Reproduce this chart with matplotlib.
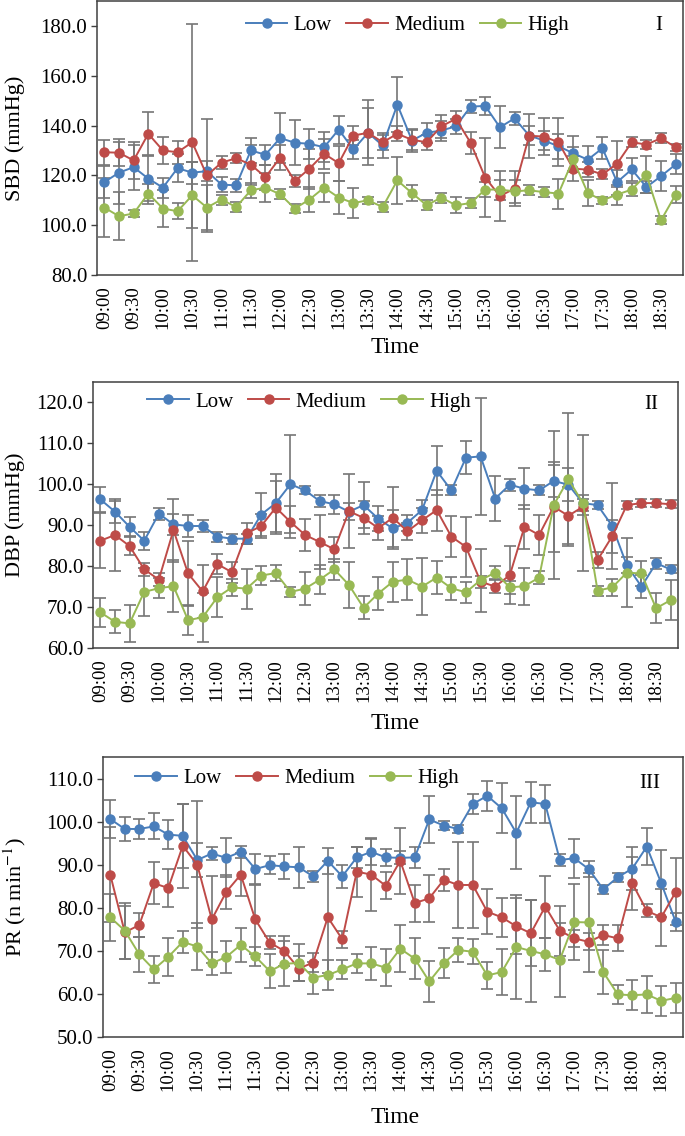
import numpy as np
import matplotlib
matplotlib.use("Agg")
import matplotlib.pyplot as plt

plt.rcParams['font.family'] = ['Liberation Serif', 'DejaVu Serif']
plt.rcParams['mathtext.fontset'] = 'stix'

# 15-minute sampling from 09:00 to 18:45, labels every 30 min
tick_labels = ['09:00', '09:30', '10:00', '10:30', '11:00', '11:30', '12:00', '12:30',
               '13:00', '13:30', '14:00', '14:30', '15:00', '15:30', '16:00', '16:30',
               '17:00', '17:30', '18:00', '18:30']
n_points = 40
groups = ['Low', 'Medium', 'High']
colors = ['#4A7EBB', '#BE4B48', '#98B954']

# ---- Panel I: SBD ----
sbd_low = [117.3, 121.1, 123.3, 118.7, 115.1, 122.9, 121.1, 121.7, 116.3, 116.0,
           130.0, 128.3, 135.0, 133.1, 132.7, 131.3, 138.4, 130.4, 137.1, 132.0,
           148.4, 134.0, 137.1, 138.0, 139.7, 147.6, 147.9, 139.3, 142.9, 136.0,
           134.0, 131.7, 128.9, 126.3, 130.9, 117.3, 122.4, 115.3, 119.7, 124.4]
sbd_med = [129.3, 129.1, 126.0, 136.7, 130.0, 129.3, 133.3, 120.0, 125.1, 126.9,
           124.3, 119.3, 127.1, 117.7, 122.7, 128.7, 124.9, 136.0, 137.1, 133.3,
           136.7, 134.3, 133.3, 139.7, 142.7, 133.1, 119.1, 111.7, 114.7, 135.9,
           135.6, 133.3, 122.7, 122.3, 120.4, 124.7, 133.3, 132.4, 134.9, 131.3]
sbd_high = [107.1, 103.6, 104.7, 112.7, 106.7, 105.6, 112.0, 107.1, 110.3, 107.3,
            114.0, 115.1, 112.4, 106.7, 110.3, 115.1, 111.1, 108.9, 110.0, 107.3,
            118.0, 112.9, 108.0, 111.1, 108.0, 108.9, 114.3, 114.3, 113.6, 114.0,
            113.3, 112.7, 126.4, 112.9, 110.0, 112.3, 114.3, 120.3, 102.0, 112.3]
sbd_low_err = [6.5, 12.5, 9.0, 9.0, 4.0, 5.6, 4.4, 4.0, 3.0, 2.5,
               5.0, 4.0, 10.0, 9.0, 6.0, 6.0, 5.6, 4.0, 13.0, 5.0,
               11.0, 4.5, 4.0, 4.0, 3.0, 2.5, 3.5, 8.5, 2.5, 4.0,
               4.0, 5.0, 7.0, 5.5, 4.5, 5.0, 4.5, 2.5, 6.0, 4.0]
sbd_med_err = [5.0, 5.5, 7.5, 8.7, 5.3, 4.7, 47.5, 22.7, 2.5, 2.0,
               8.0, 5.0, 5.0, 2.5, 8.0, 6.0, 7.0, 4.0, 10.0, 3.0,
               3.0, 4.0, 3.0, 4.5, 3.3, 4.4, 16.0, 10.0, 7.0, 8.8,
               7.3, 9.7, 5.0, 3.0, 2.0, 9.3, 2.0, 2.0, 2.0, 1.5]
sbd_high_err = [12.0, 9.7, 1.5, 4.0, 7.6, 3.3, 13.3, 9.0, 2.0, 2.0,
                3.0, 5.7, 2.0, 2.0, 5.0, 5.7, 6.7, 5.9, 1.5, 2.0,
                9.3, 3.3, 2.0, 2.0, 3.3, 2.0, 3.0, 4.0, 4.5, 2.0,
                2.0, 6.0, 5.0, 5.3, 1.5, 4.0, 2.5, 7.3, 1.5, 3.3]

# ---- Panel II: DBP ----
dbp_low = [96.3, 93.3, 89.6, 86.2, 92.8, 90.2, 89.8, 89.8, 87.2, 86.7,
           86.7, 92.6, 95.4, 100.0, 98.5, 95.9, 95.1, 93.3, 94.9, 91.6,
           89.2, 90.6, 93.7, 103.3, 98.5, 106.5, 106.8, 96.5, 99.9, 98.9,
           98.5, 100.8, 99.9, 95.4, 94.9, 89.8, 80.2, 75.0, 80.7, 79.2]
dbp_med = [86.2, 87.6, 84.9, 79.2, 76.7, 88.8, 78.2, 73.8, 80.5, 78.5,
           88.0, 89.8, 94.3, 90.8, 87.6, 85.9, 84.1, 93.4, 91.8, 89.3,
           91.8, 88.5, 91.2, 93.7, 87.2, 84.7, 76.2, 75.0, 77.8, 89.6,
           87.6, 94.5, 92.3, 94.5, 81.5, 87.3, 94.9, 95.4, 95.4, 95.1]
dbp_high = [68.7, 66.4, 66.0, 73.7, 74.6, 75.1, 66.8, 67.5, 72.4, 74.8,
            74.5, 77.7, 78.3, 73.7, 74.5, 76.7, 79.2, 75.4, 69.8, 73.3,
            76.2, 76.7, 75.0, 77.2, 74.6, 73.6, 76.6, 78.4, 74.8, 75.1,
            77.2, 94.9, 101.2, 95.4, 74.0, 74.8, 78.4, 78.2, 69.7, 71.7]
dbp_low_err = [3.1, 2.7, 2.3, 2.2, 1.5, 2.5, 2.8, 1.5, 1.2, 1.2,
               1.2, 5.3, 7.0, 12.0, 1.0, 1.5, 2.3, 2.0, 5.7, 3.0,
               4.5, 2.0, 2.5, 6.0, 1.2, 4.0, 14.2, 5.5, 1.5, 5.0,
               1.2, 4.0, 4.0, 2.0, 1.0, 10.5, 2.0, 2.8, 1.3, 1.0]
dbp_med_err = [6.7, 8.7, 2.3, 1.6, 1.5, 7.7, 8.0, 6.5, 2.4, 2.6,
               2.5, 3.0, 6.5, 4.0, 4.0, 6.5, 3.0, 9.0, 4.0, 3.0,
               7.5, 2.0, 3.0, 5.0, 5.0, 7.3, 1.5, 1.5, 7.0, 5.3,
               5.0, 11.0, 7.0, 2.0, 2.0, 4.0, 1.0, 1.0, 1.0, 1.0]
dbp_high_err = [3.5, 2.8, 4.5, 5.9, 2.4, 6.3, 3.7, 6.0, 4.9, 2.0,
                4.9, 2.3, 2.0, 1.2, 4.0, 3.5, 2.5, 5.7, 2.8, 4.0,
                4.9, 5.0, 7.0, 4.0, 2.8, 2.5, 7.7, 1.6, 1.5, 4.5,
                1.5, 18.0, 16.3, 16.7, 1.2, 2.0, 8.5, 3.0, 3.7, 4.9]

# ---- Panel III: PR ----
pr_low = [100.6, 98.3, 98.3, 98.9, 97.0, 96.7, 91.1, 92.6, 91.6, 93.0,
          89.0, 89.9, 89.6, 89.4, 87.3, 90.9, 87.3, 91.7, 93.0, 91.7,
          91.6, 91.7, 100.5, 99.1, 98.3, 104.1, 106.0, 103.1, 97.4, 104.5,
          104.1, 91.1, 91.5, 89.0, 84.3, 87.1, 89.1, 94.2, 85.7, 76.7]
pr_med = [87.7, 74.3, 76.0, 85.7, 84.6, 94.4, 90.0, 77.3, 83.7, 87.7,
          77.3, 71.9, 70.0, 65.9, 67.3, 77.8, 72.7, 88.4, 87.7, 85.1,
          90.9, 81.1, 82.2, 86.5, 85.3, 85.3, 79.1, 77.8, 75.7, 74.1,
          80.3, 74.7, 72.9, 72.1, 73.7, 72.9, 85.7, 79.3, 77.8, 83.7]
pr_high = [77.8, 74.7, 69.2, 65.7, 68.6, 72.1, 71.0, 67.1, 68.6, 71.4,
           68.7, 65.3, 67.0, 67.2, 63.8, 64.4, 65.7, 67.1, 67.1, 66.1,
           70.5, 68.2, 62.9, 67.1, 70.2, 69.8, 64.3, 65.1, 70.9, 70.0,
           69.2, 67.9, 76.7, 76.6, 65.1, 59.9, 59.7, 59.9, 58.4, 59.1]
pr_low_err = [4.4, 2.7, 2.3, 3.0, 3.3, 7.5, 4.0, 1.4, 4.5, 1.4,
              3.5, 2.1, 3.0, 4.7, 1.3, 3.0, 2.6, 2.5, 3.0, 2.0,
              1.5, 2.5, 5.4, 1.0, 1.0, 2.3, 3.5, 5.8, 8.5, 4.7,
              4.3, 1.5, 4.5, 1.8, 1.0, 1.0, 5.0, 4.3, 7.8, 2.0]
pr_med_err = [11.0, 6.2, 2.7, 4.9, 4.4, 9.7, 14.7, 10.0, 3.9, 5.0,
              8.0, 1.5, 3.5, 3.0, 2.3, 13.0, 2.0, 5.8, 8.5, 3.1,
              7.7, 4.3, 5.4, 2.6, 10.0, 10.0, 5.2, 4.5, 6.5, 7.7,
              7.2, 5.8, 2.0, 2.0, 2.3, 3.0, 6.2, 1.5, 6.6, 7.8]
pr_high_err = [5.5, 6.5, 4.0, 3.1, 4.4, 2.5, 5.4, 2.6, 3.7, 3.9,
               2.3, 3.9, 5.2, 4.3, 3.7, 3.5, 2.3, 2.2, 3.9, 4.3,
               5.4, 4.8, 4.8, 3.5, 2.7, 2.9, 3.1, 5.4, 12.0, 11.8,
               3.9, 8.5, 8.9, 11.5, 5.0, 2.2, 3.5, 4.3, 3.5, 3.5]

panels = [
    dict(series=[sbd_low, sbd_med, sbd_high], errs=[sbd_low_err, sbd_med_err, sbd_high_err],
         ylabel='SBD (mmHg)', ylim=(80, 190), yticks=np.arange(80, 181, 20), tag='I',
         rect=[0.1416, 0.7579, 0.8555, 0.2412], leg=(0.53, 0.912), tagpos=(0.959, 0.912),
         time_y=0.6937),
    dict(series=[dbp_low, dbp_med, dbp_high], errs=[dbp_low_err, dbp_med_err, dbp_high_err],
         ylabel='DBP (mmHg)', ylim=(60, 125), yticks=np.arange(60, 121, 10), tag='II',
         rect=[0.1358, 0.4296, 0.854, 0.2342], leg=(0.369, 0.925), tagpos=(0.955, 0.917),
         time_y=0.3627),
    dict(series=[pr_low, pr_med, pr_high], errs=[pr_low_err, pr_med_err, pr_high_err],
         ylabel=r'PR (n min$^{-1}$)', ylim=(50, 115), yticks=np.arange(50, 111, 10), tag='III',
         rect=[0.1504, 0.0871, 0.8467, 0.2465], leg=(0.335, 0.925), tagpos=(0.943, 0.907),
         time_y=0.0167),
]

fig = plt.figure(figsize=(6.85, 11.36), dpi=100)
x = np.arange(n_points)

for p in panels:
    ax = fig.add_axes(p['rect'])
    for vals, err, name, c in zip(p['series'], p['errs'], groups, colors):
        ax.errorbar(x, vals, yerr=err, fmt='none', ecolor='#767676',
                    elinewidth=1.2, capsize=4, capthick=1.2, zorder=2)
        ax.plot(x, vals, '-o', color=c, lw=1.4, markersize=6.5, label=name, zorder=3)
    ax.set_xlim(-0.5, n_points - 0.5)
    ax.set_ylim(*p['ylim'])
    ax.set_yticks(p['yticks'])
    ax.set_yticklabels(['%.1f' % v for v in p['yticks']], fontsize=15)
    ax.set_xticks(x[::2])
    ax.set_xticklabels(tick_labels, rotation=90, fontsize=13.5)
    ax.tick_params(axis='x', length=0, pad=8)
    ax.tick_params(axis='y', direction='out', length=4, width=1, color='#404040', pad=3)
    for s in ax.spines.values():
        s.set_color('#404040')
        s.set_linewidth(1.1)
    ax.legend(loc='center', bbox_to_anchor=p['leg'], ncol=3, frameon=False,
              fontsize=15, handlelength=2.0, handletextpad=0.3, columnspacing=0.7)
    ax.text(p['tagpos'][0], p['tagpos'][1], p['tag'], transform=ax.transAxes,
            ha='center', va='center', fontsize=15)
    cy = p['rect'][1] + p['rect'][3] / 2
    fig.text(0.022, cy, p['ylabel'], rotation=90, ha='center', va='center', fontsize=16)
    fig.text(0.577, p['time_y'], 'Time', ha='center', va='center', fontsize=17)

fig.savefig('out.png', dpi=100)
